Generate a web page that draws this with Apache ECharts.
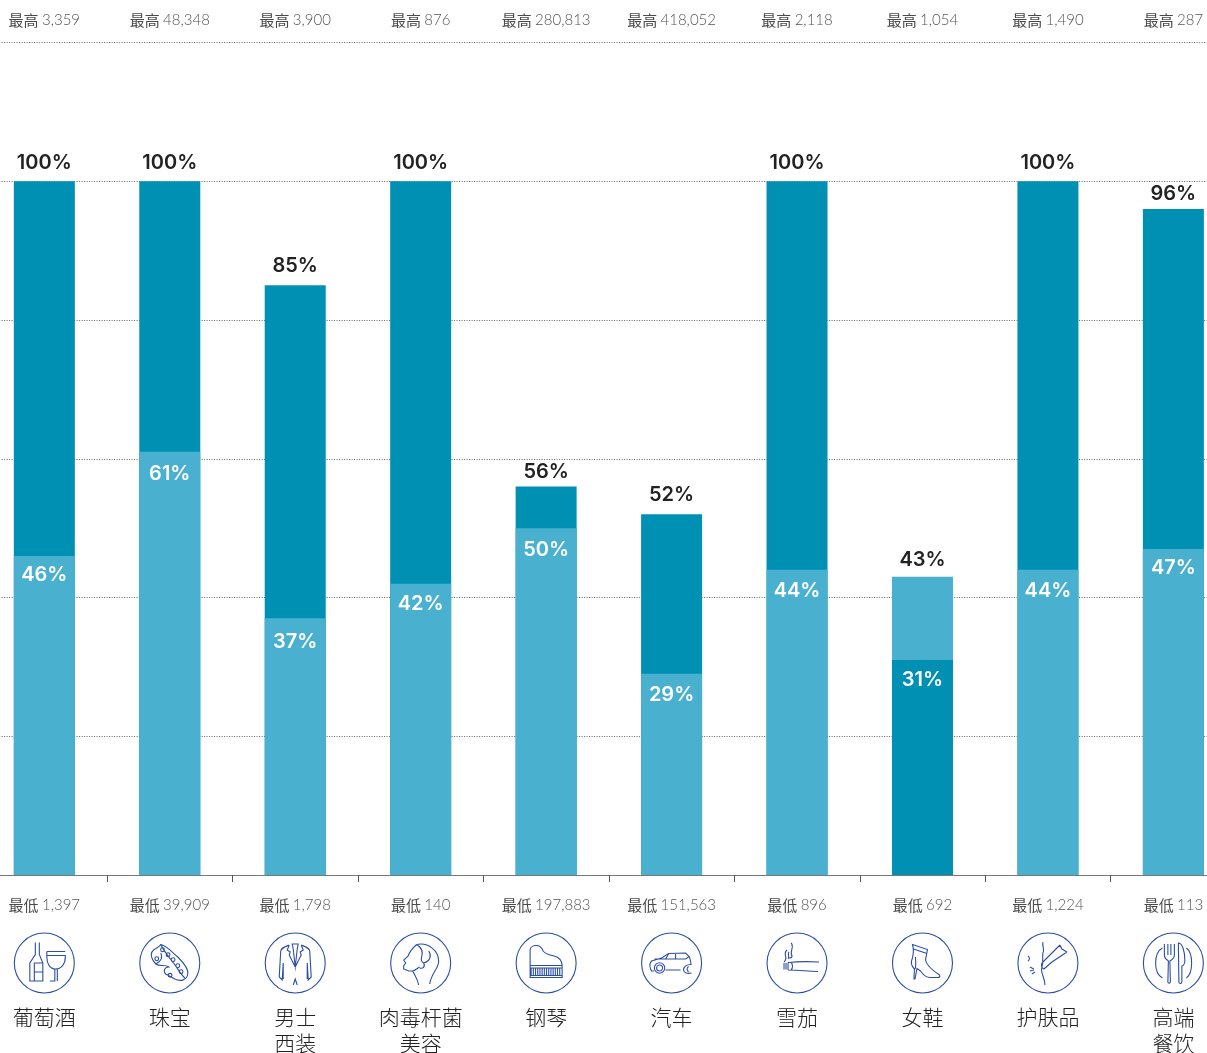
<!DOCTYPE html>
<html><head><meta charset="utf-8">
<style>html,body{margin:0;padding:0;background:#fff}#c{width:1207px;height:1053px}</style>
<script src="https://cdn.jsdelivr.net/npm/echarts@6/dist/echarts.min.js"></script>
</head><body><div id="c"></div>
<script>
const categories = ['葡萄酒','珠宝','男士\n西装','肉毒杆菌\n美容','钢琴','汽车','雪茄','女鞋','护肤品','高端\n餐饮'];
const darkValues  = [100,100,85,100,56,52,100,31,100,96];
const lightValues = [46,61,37,42,50,29,44,43,44,47];
const highPrices = ['3,359','48,348','3,900','876','280,813','418,052','2,118','1,054','1,490','287'];
const lowPrices  = ['1,397','39,909','1,798','140','197,883','151,563','896','692','1,224','113'];
const yTicks = {min:0,max:120,interval:20};

const DARK='#0090B4', LIGHT='#49B1CF', ICON='#2C4FA3';
const SANS='Inter, "Noto Sans CJK SC", sans-serif';
const tallGap=[8,8,9,8,5,9,8,7,8,5];
const shortGap=[9.5,12.5,14,10.5,12,11.5,11.5,10,11.5,9];
const dot=(x,y,r)=>`M${x+r} ${y}A${r} ${r} 0 1 1 ${x-r} ${y}A${r} ${r} 0 1 1 ${x+r} ${y}Z`;
const RING=dot(30,30,30);
const pianoKeys=Array.from({length:14},(_,i)=>`M${15+i*2.2} 35.5V42`).join('');
const icons=[
 'M21 9.5V21.5L15.5 30V48H28.5V30L25 21.5V9.5M20 48V30H28.5M20 39H28.5M32.5 18.5H51M32.5 18.5V24C32.5 31 36 36 41 36C47 36 51 31 51 24V22.5H33M40.5 36V48H35.5M43 36V48',
 'M21 11.5C26 12 31 18 38 24C44 30 49 36 48 41C47 47 41 49 35 46L26 41C23 38 25 34 29 34C26 31 20 34 16 31C12 27 10 21 13 18C15 15 18 16 21 11.5ZM21 11.5C24 18 29 24 33 29C37 34 40 40 45 45M16 31C20 29 24 26 21 20'+dot(22.7,16.7,1.9)+dot(28.3,21.7,1.9)+dot(33.3,26.7,1.9)+dot(38,32.7,1.9)+dot(41.3,38.7,1.9)+dot(30.3,42.3,1.9)+dot(17,25.7,1.9),
 'M24 12C19 14 16 15 15.5 18L14 44L17 47L18 30M36 12C41 14 44 15 44.5 18L46 44L43 47L42 30M18 30V46M42 30V46M24 12L22 17L25 19L24 22L30 34L36 22L35 19L38 17L36 12M27 11H33L32 16L30 34L28 16ZM28 52L30 46L32 52',
 'M26 11.5C38 9 48 18 48 28C48 36 41 39 39 51M26 11.5C22 15 19 18 17.5 23L13 27L15 30L13 33L13 36L18 38L22 38M22 38C25 44 27 46 28 52M26 11.5C30 14 33 18 31 24C30 27 31 29 33 30C35 34 32 36 29 35M22 38C25 37 27 35 29 34M33 30C40 28 41 22 38 18',
 'M14 32.5V17C14 14 17 12.5 20 12.5C24 12.5 26 15 27 18C29 21 33 22 38 23C43 24 46 28 46 32.5ZM14 32.5V44.5H46V32.5M14 35H46'+pianoKeys+'M14 42.5H46',
 'M9 36C8 33 8 30 10 28L20 25L27 20.5L44 20L48 24L49.5 31M12.5 38H10L9 36M24 37H39M27 21L24 26H44L47 24M34 21V26M24 26H13'+dot(18,35,5.2)+dot(18,35,3)+'M50 31.5C45 31 42 34 42 37C42 40 46 41 50 40M47 33.5C45 35 45 37 47 39',
 'M17 30V36.5M19 30V36.5M21 29.5V37M21 29.5C30 28.5 42 28.5 52 29M21 37C32 37 38 38 51 38.5M24 29.5C26 31.5 26 35 24 37M24 10C28 14 22 18 25 23C25 24 24 25 22 25M20 17C15 21 22 24 17 29M22 19C20 21 23 23 21 26',
 'M20 11.5L35 16.5L33 27C34 33 41 38 47 42C48 44 47 44.5 45 44.5H37C33 44 30 41 28 38L24.5 35.5L22.5 46H21.5L22 36C19 33 18 29 20 25C21 21 21 15 20 11.5ZM21 16L34.5 20.5M22.5 36C24 33 23 28 23 24',
 'M25 9C24 14 27 16 25 20C24 24 26 28 24 34C22 40 27 44 27 52M30 24L42 12M34 29L49 19M42 12L44 16L49 19M30 24L24 30C23 33 24 35 26 36L34 29M10 23C12 24 12 27 10 28M12 34L16 36M12 38L16 37M14 41L17 39',
 'M21 11V22C21 26 24 27 25 28L24.5 49C24.5 50.5 27 50.5 27 49L26.5 28C28 27 31 26 31 22V11M24.5 11V22M27.5 11V22M35 10C39 10 41.5 18 41.5 28C41.5 32 39 33 38.5 33V49C38.5 51 35.5 51 35.5 49ZM19 15C10 20 10 40 19 45M43 15C50 20 50 40 43 45'
].map(p=>'path://'+RING+p);

const tall=darkValues.map((d,i)=>({value:Math.max(d,lightValues[i]),itemStyle:{color:d>=lightValues[i]?DARK:LIGHT},label:{distance:tallGap[i]}}));
const short=darkValues.map((d,i)=>({value:Math.min(d,lightValues[i]),itemStyle:{color:d>=lightValues[i]?LIGHT:DARK},label:{distance:shortGap[i]}}));
const GL=-18.4, GW=1254.5;
const priceRich={c:{fontFamily:'"Noto Sans CJK SC"',fontSize:15,color:'#4a4a4a',fontWeight:400},n:{fontFamily:'Lato',fontSize:15,color:'#555',fontWeight:300}};
const priceLabel=(tag,list)=>(v,i)=>`{c|${tag}} {n|${list[i]}}`;

const chart=echarts.init(document.getElementById('c'),null,{renderer:'canvas'});
chart.setOption({
 animation:false,
 textStyle:{fontFamily:SANS},
 grid:[{left:GL,width:GW,top:42.5,height:832.5,outerBoundsMode:'none'},{left:GL,width:GW,top:933,height:60,outerBoundsMode:'none'}],
 xAxis:[
  {type:'category',gridIndex:0,position:'bottom',data:categories,
   axisLine:{lineStyle:{color:'#777',width:1.2}},axisTick:{show:true,length:7,lineStyle:{color:'#555',width:1}},
   axisLabel:{interval:0,margin:23,formatter:priceLabel('最低',lowPrices),rich:priceRich}},
  {type:'category',gridIndex:0,position:'top',data:categories,
   axisLine:{show:false},axisTick:{show:false},
   axisLabel:{interval:0,margin:15,formatter:priceLabel('最高',highPrices),rich:priceRich}},
  {type:'category',gridIndex:1,position:'bottom',data:categories,
   axisLine:{show:false},axisTick:{show:false},
   axisLabel:{interval:0,margin:11,fontFamily:'"Noto Sans CJK SC"',fontWeight:300,fontSize:21,lineHeight:26,color:'#222'}}
 ],
 yAxis:[
  {type:'value',gridIndex:0,...yTicks,axisLabel:{show:false},axisLine:{show:false},axisTick:{show:false},
   splitLine:{show:true,lineStyle:{color:'#666',type:[1,1.5],width:1}}},
  {type:'value',gridIndex:1,min:0,max:1,show:false}
 ],
 series:[
  {name:'tall',type:'bar',xAxisIndex:0,yAxisIndex:0,data:tall,barWidth:61,barGap:'-100%',
   label:{show:true,position:'top',formatter:'{c}%',color:'#222',fontSize:20,fontWeight:600,fontFamily:SANS}},
  {name:'short',type:'bar',xAxisIndex:0,yAxisIndex:0,data:short,barWidth:61,barGap:'-100%',
   label:{show:true,position:'insideTop',formatter:'{c}%',color:'#fff',fontSize:20,fontWeight:600,fontFamily:SANS}},
  {name:'icons',type:'scatter',xAxisIndex:2,yAxisIndex:1,silent:true,
   data:categories.map((c,i)=>({value:[i,0.5],symbol:icons[i]})),
   symbolSize:60,itemStyle:{color:'rgba(0,0,0,0)',borderColor:ICON,borderWidth:1.1,opacity:1}}
 ]
});
</script></body></html>
